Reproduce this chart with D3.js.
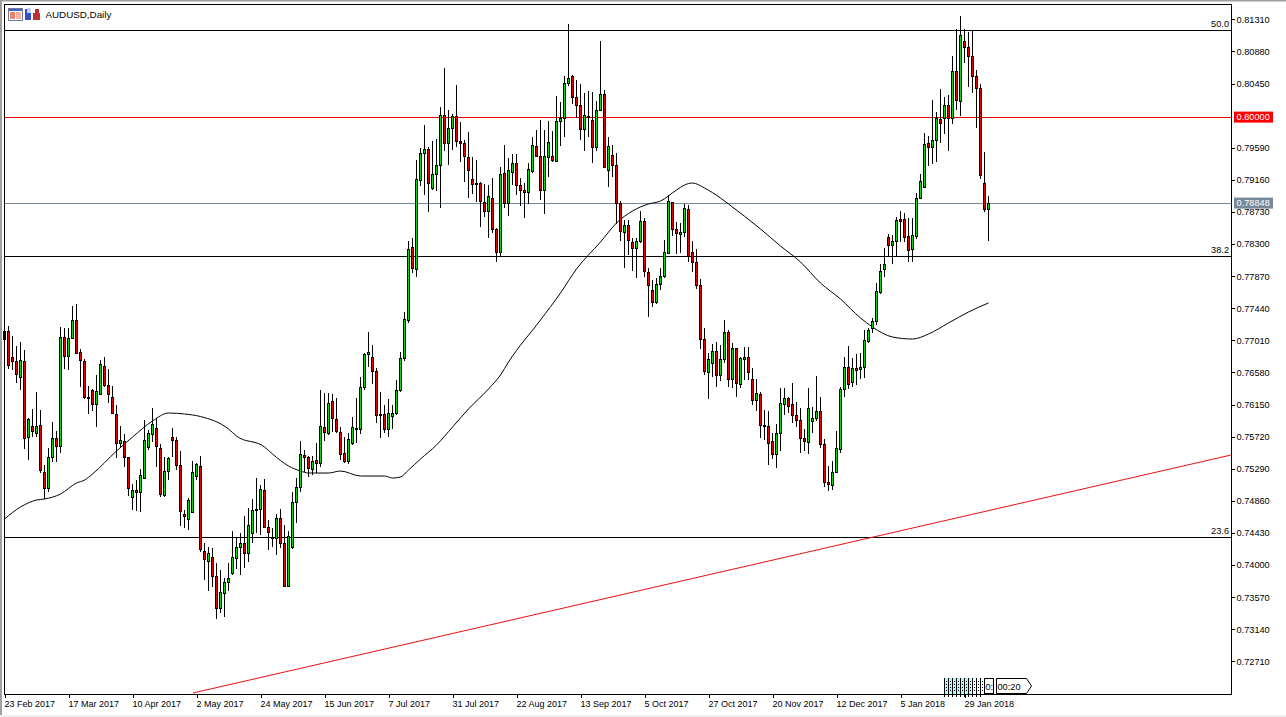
<!DOCTYPE html>
<html>
<head>
<meta charset="utf-8">
<title>AUDUSD,Daily</title>
<script src="https://cdn.jsdelivr.net/npm/d3@7"></script>
<style>
  html, body { margin: 0; padding: 0; background: #fff; }
  svg { display: block; }
  text { font-family: "Liberation Sans", Arial, sans-serif; fill: #000; }
</style>
</head>
<body>
<div id="chart"></div>
<script>
// prices are in points (0.78848 -> 78848), one value per daily bar
const opens = [
77126,77130,76782,76728,76514,76728,75710,75858,75764,75871,
75242,75023,75443,75697,75590,77050,76795,77037,77278,76849,
76728,76246,76340,76148,76286,76662,76407,76246,76019,75630,
75657,75443,74902,75001,74974,75161,75577,75751,75831,75563,
74934,75255,75710,75670,75335,74679,74612,74706,75188,75322,
74183,74049,74103,73848,73420,73621,73768,73889,74089,74237,
74290,74156,74424,74746,74746,75000,74505,74366,74357,74625,
74290,73714,74237,74840,75041,75469,75442,75282,75402,75362,
75844,75764,76192,75951,75777,75496,75389,75625,75831,75817,
76380,76822,76782,76594,76018,76018,75817,75992,76032,76336,
76769,77273,78256,77961,79149,79515,79568,79042,79233,79354,
80024,79649,79850,80010,79676,79649,79461,79167,79113,79113,
78858,78738,78912,78497,78184,79238,78845,79256,79381,79086,
79019,78993,79269,79609,79475,79019,79461,79475,79408,79944,
79984,80453,80546,80265,80158,79836,80011,79957,79595,80091,
80305,79287,79488,79354,78836,78457,78551,78323,78242,78336,
78604,77920,77679,77518,77759,77867,78175,78858,78496,78429,
78456,78764,78188,78054,77746,77023,76581,76701,76862,76540,
76755,77116,76487,76902,76420,76755,76782,76487,76206,76286,
75871,75858,75657,75483,75764,76152,76233,76152,76005,75938,
75697,75643,75925,75965,76059,75617,75108,75067,75242,75550,
76353,76648,76447,76635,76621,76648,76996,77171,77260,77653,
77952,78390,78274,78336,78622,78631,78403,78229,78403,78912,
79060,79649,79591,79689,79970,79984,80158,79984,80613,80212,
81015,80935,80814,80546,80386,79113,78765];
const highs = [
77148,77202,77068,76934,76987,76880,75965,76090,76318,76077,
75340,75563,75916,75800,77188,77171,77179,77474,77496,76889,
76755,76398,76353,76545,76742,76787,76621,76394,76144,75862,
75751,75451,75081,75139,75282,75943,75809,76103,75965,75621,
75451,75451,75831,75719,75523,74737,74893,75389,75371,75460,
74290,74246,74223,74022,73933,73822,74022,74456,74357,74424,
74657,74759,74884,75161,75072,75148,74603,74491,74683,74746,
74536,74456,74974,75161,75657,75541,75460,75460,75630,76344,
76300,76300,76286,76233,75844,75719,75764,75978,76233,76514,
76844,77121,76947,76635,76322,76139,76219,76143,76478,76858,
77394,78340,78376,79425,79582,79894,79595,79680,79707,80131,
80658,80095,80042,80430,79930,79693,79801,79470,79425,79135,
79104,79091,79180,78510,79336,79627,79448,79502,79502,79180,
79113,79381,79729,79828,79961,79828,79948,79819,80283,80198,
80551,81247,80564,80497,80444,80319,80345,80341,80216,81020,
80363,79729,79627,79515,78872,78622,78622,78376,78376,78743,
78653,77974,77817,77840,77974,78353,78956,78867,78590,78576,
78835,78822,78344,78228,77826,77170,76835,76960,76982,76947,
77282,77148,76969,76902,76790,76924,76924,76635,76487,76313,
76077,76063,75764,75889,76367,76367,76246,76434,76184,76099,
75818,76367,76121,76532,76255,75684,75326,75398,75800,76380,
76791,76934,76769,76827,76836,77148,77170,77305,77774,78033,
78243,78435,78421,78667,78743,78720,78644,78644,78979,79238,
79783,79747,80229,80073,80372,80265,80296,80819,81176,81355,
81176,81145,81158,80631,80439,79528,78944];
const lows = [
77014,76621,76612,76443,76344,75559,75407,75719,75719,75237,
74880,74974,75385,75385,75496,76621,76612,77023,76822,76380,
76219,76023,76068,75853,76273,76380,76166,76023,75438,75563,
75309,74925,74737,74728,74715,75148,75541,75652,75318,74907,
74907,75139,75451,75273,74523,74492,74469,74692,75139,74179,
73799,73656,73710,73272,73362,73308,73656,73866,73942,73866,
73956,74045,74290,74424,74402,74491,74201,74246,74134,74223,
73710,73701,74210,74558,74982,75241,75183,75201,75228,75308,
75661,75737,75777,75764,75407,75362,75353,75608,75630,75755,
76344,76648,76425,75898,75697,75764,75710,75817,76005,76322,
76738,77247,77907,77854,79077,78957,78733,79024,79015,78778,
79551,79359,79559,79595,79403,79135,78912,78966,78867,78532,
78658,78376,78443,78064,78131,78787,78680,79091,78957,78814,
78653,78836,79247,79461,78890,78702,79202,79403,79403,79613,
79729,80421,80176,79984,79694,79546,79738,79390,79551,80082,
79314,79068,79202,78568,78345,77984,78153,77943,77841,78309,
77854,77317,77451,77492,77683,77840,78166,78411,78161,78175,
78398,78063,77929,77701,76889,76540,76228,76523,76380,76469,
76701,76380,76366,76255,76366,76478,76478,76144,76068,75701,
75675,75340,75425,75304,75532,76010,76041,75907,75853,75505,
75532,75487,75773,75934,75563,75041,74996,75005,75237,75505,
76255,76353,76380,76411,76492,76501,76978,77113,77216,77631,
77863,78131,78033,78140,78332,78323,78064,78064,78363,78899,
79055,79350,79372,79394,79649,79778,79551,79908,80095,80015,
80730,80408,80319,79850,79167,78734,78345];
const closes = [
77023,76675,76728,76554,76742,75697,75952,75791,75858,75264,
75023,75443,75697,75590,77050,76795,77037,77278,76836,76742,
76246,76228,76152,76327,76688,76407,76286,76032,75630,75670,
75443,75027,75001,74974,75201,75670,75764,75885,75585,74947,
75255,75429,75670,75335,74719,74652,74867,75242,75349,74210,
74076,74156,73848,73420,73634,73768,73822,74103,74237,74290,
74156,74532,74732,74732,75014,74505,74438,74357,74625,74290,
73714,74384,74840,75041,75483,75442,75295,75389,75362,75858,
75777,76166,75965,75791,75483,75389,75683,75844,75817,76380,
76822,76849,76594,76005,76005,75817,76032,76032,76340,76769,
77282,78229,77970,79158,79515,79568,79113,79233,79354,80024,
79649,79850,80010,79676,79649,79470,79287,79100,79100,78872,
78738,78939,78497,78184,79233,78845,79287,79381,79086,79015,
78993,79301,79622,79475,79019,79466,79662,79421,79944,79984,
80453,80520,80265,80158,79836,80024,79997,79595,80091,80305,
79323,79609,79354,78845,78470,78551,78350,78242,78336,78604,
77934,77746,77518,77759,77867,78188,78871,78496,78443,78456,
78777,78134,78054,77746,77023,76594,76755,76862,76540,76755,
77116,76487,76902,76433,76768,76782,76581,76206,76300,75871,
75858,75630,75483,75764,76166,76233,76126,76005,75938,75697,
75657,76099,75965,76059,75617,75108,75081,75242,75563,76353,
76648,76420,76635,76603,76648,77010,77144,77260,77662,77934,
78028,78283,78336,78618,78604,78390,78216,78417,78912,79140,
79636,79591,79689,79984,79912,80158,79984,80613,80225,81096,
80935,80814,80546,80386,79220,78765,78848];

const maBars = [0,4,8,10,14,18,20,22,28,32,37,41,45,49,56,58,65,67,71,74,76,81,84,89,95,97,99,101,104,108,112,116,121,124,126,134,139,143,149,153,157,161,164,168,170,172,175,179,181,189,194,199,204,209,214,217,222,227,231,236,241,246];
const maValues = [74616,74777,74870,74884,74951,75098,75138,75219,75527,75714,75929,76036,76023,75989,75822,75728,75581,75487,75326,75259,75232,75232,75259,75192,75192,75165,75179,75272,75420,75607,75848,76090,76358,76545,76719,77282,77644,77965,78327,78581,78742,78836,78876,79023,79090,79117,79050,78916,78836,78501,78273,78059,77777,77563,77309,77188,77054,77027,77094,77242,77389,77510];

// trend line, ends at the chart frame
const trendBars = [47.1, 306.6];
const trendValues = [72285, 75473];

const fibLevels = [81163, 78135, 74368];
const fibLabels = ["50.0", "38.2", "23.6"];
const roundLevel = 80000;
const lastPrice = 78848;

const priceTicks = [81310,80880,80450,79590,79160,78730,78300,77870,77440,77010,76580,76150,75720,75290,74860,74430,74000,73570,73140,72710];
const dateTickBars = [0,16,32,48,64,80,96,112,128,144,160,176,192,208,224,240];
const dateTickLabels = ["23 Feb 2017","17 Mar 2017","10 Apr 2017","2 May 2017","24 May 2017","15 Jun 2017","7 Jul 2017","31 Jul 2017","22 Aug 2017","13 Sep 2017","5 Oct 2017","27 Oct 2017","20 Nov 2017","12 Dec 2017","5 Jan 2018","29 Jan 2018"];

const W = 1286, H = 717;
const frame = {left: 4.5, top: 4.5, right: 1231.5, bottom: 694.5};

const svg = d3.select("#chart").append("svg").attr("width", W).attr("height", H);

// 4px per bar, 13.396 points per px
const x = d3.scaleLinear().domain([0, 246]).range([4.5, 988.5]);
const y = d3.scaleLinear().domain([81310, 72710]).range([19.3, 661.3]);
const fmt = v => (v / 100000).toFixed(5);

// window edges
svg.append("rect").attr("width", 2).attr("height", H).attr("fill", "#a0a0a0");
svg.append("rect").attr("width", W).attr("height", 1.5).attr("fill", "#a0a0a0");
svg.append("rect").attr("y", 715).attr("width", W).attr("height", 2).attr("fill", "#f0f0f0");

const plot = svg.append("g");

plot.selectAll("line.fib").data(fibLevels).join("line")
  .attr("class", "fib")
  .attr("x1", frame.left).attr("x2", frame.right)
  .attr("y1", d => y(d)).attr("y2", d => y(d))
  .attr("stroke", "#000").attr("shape-rendering", "crispEdges");

plot.append("line")
  .attr("x1", frame.left).attr("x2", frame.right)
  .attr("y1", y(roundLevel)).attr("y2", y(roundLevel))
  .attr("stroke", "#f00000").attr("shape-rendering", "crispEdges");

plot.append("line")
  .attr("x1", frame.left).attr("x2", frame.right)
  .attr("y1", y(lastPrice)).attr("y2", y(lastPrice))
  .attr("stroke", "#778899").attr("shape-rendering", "crispEdges");

const trendLine = d3.line().x(d => x(d[0])).y(d => y(d[1]));
plot.append("path")
  .attr("d", trendLine(d3.zip(trendBars, trendValues)))
  .attr("fill", "none").attr("stroke", "#e81010").attr("stroke-width", 1);

const maLine = d3.line().x(d => x(d[0])).y(d => y(d[1])).curve(d3.curveMonotoneX);
plot.append("path")
  .attr("d", maLine(d3.zip(maBars, maValues)))
  .attr("fill", "none").attr("stroke", "#000").attr("stroke-width", 1);

// candles
const bars = plot.selectAll("g.bar").data(d3.range(opens.length)).join("g").attr("class", "bar");
bars.append("line")
  .attr("x1", i => x(i)).attr("x2", i => x(i))
  .attr("y1", i => y(highs[i])).attr("y2", i => y(lows[i]))
  .attr("stroke", "#000").attr("shape-rendering", "crispEdges");
bars.append("rect")
  .attr("x", i => x(i) - 1)
  .attr("width", 2)
  .attr("y", i => y(Math.max(opens[i], closes[i])))
  .attr("height", i => Math.max(1, Math.abs(y(opens[i]) - y(closes[i]))))
  .attr("fill", i => closes[i] >= opens[i] ? "#00e000" : "#e60000")
  .attr("stroke", "#000").attr("shape-rendering", "crispEdges");

plot.selectAll("text.fib").data(fibLevels).join("text")
  .attr("class", "fib")
  .attr("x", 1229).attr("y", d => y(d) - 3.5)
  .attr("text-anchor", "end").attr("font-size", 9.2)
  .text((d, i) => fibLabels[i]);

// frame
svg.append("rect")
  .attr("x", frame.left).attr("y", frame.top)
  .attr("width", frame.right - frame.left).attr("height", frame.bottom - frame.top)
  .attr("fill", "none").attr("stroke", "#000").attr("shape-rendering", "crispEdges");

// price axis
const yAxis = d3.axisRight(y).tickValues(priceTicks).tickSize(3).tickPadding(2).tickFormat(fmt);
const yG = svg.append("g").attr("transform", `translate(${frame.right},0)`).call(yAxis);
yG.select(".domain").remove();
yG.selectAll("text").attr("font-size", 9.2).attr("font-family", '"Liberation Sans", Arial, sans-serif');
yG.selectAll("line").attr("shape-rendering", "crispEdges");

// round number and last price tags
[[roundLevel, "#ff0000"], [lastPrice, "#778899"]].forEach(function(tag) {
  const g = svg.append("g").attr("transform", `translate(1234,${y(tag[0])})`);
  g.append("rect").attr("y", -5.5).attr("width", 39).attr("height", 11).attr("fill", tag[1]);
  g.append("text").attr("x", 2.6).attr("y", 3.4).attr("font-size", 9.2).style("fill", "#fff").text(fmt(tag[0]));
});

// date axis
const xAxis = d3.axisBottom(x).tickValues(dateTickBars).tickSize(3).tickPadding(3)
  .tickFormat((d, i) => dateTickLabels[i]);
const xG = svg.append("g").attr("transform", `translate(0,${frame.bottom})`).call(xAxis);
xG.select(".domain").remove();
xG.selectAll("text").attr("text-anchor", "start").attr("dx", -0.5).attr("font-size", 9)
  .attr("font-family", '"Liberation Sans", Arial, sans-serif');
xG.selectAll("line").attr("shape-rendering", "crispEdges");

// title
svg.append("text").attr("x", 45.5).attr("y", 18).attr("font-size", 9.8).text("AUDUSD,Daily");

// title icons
const icon = svg.append("g");
icon.append("rect").attr("x", 8.5).attr("y", 8.5).attr("width", 14).attr("height", 12).attr("fill", "#fff").attr("stroke", "#70789a");
icon.append("rect").attr("x", 9).attr("y", 9).attr("width", 13).attr("height", 2).attr("fill", "#4060d0");
icon.append("rect").attr("x", 10).attr("y", 12).attr("width", 5).attr("height", 7).attr("fill", "#f08070");
icon.append("rect").attr("x", 16).attr("y", 12).attr("width", 5).attr("height", 7).attr("fill", "#f8b0a0");
icon.append("rect").attr("x", 25).attr("y", 9).attr("width", 6).attr("height", 11).attr("fill", "#3050c8");
icon.append("rect").attr("x", 27).attr("y", 8).attr("width", 4).attr("height", 5).attr("fill", "#c8d0f0");
icon.append("rect").attr("x", 33).attr("y", 13).attr("width", 7).attr("height", 7).attr("fill", "#c03030");
icon.append("rect").attr("x", 35).attr("y", 9).attr("width", 4).attr("height", 5).attr("fill", "#c03030");

// stacked period labels and timer at the foot of the chart
const stack = svg.append("g");
stack.append("rect").attr("x", 944).attr("y", 678).attr("width", 27).attr("height", 16).attr("fill", "#bff0f4");
d3.range(944, 982, 4).forEach(function(px) {
  stack.append("line").attr("x1", px + 0.5).attr("x2", px + 0.5).attr("y1", 678).attr("y2", 697)
    .attr("stroke", "#000").attr("shape-rendering", "crispEdges");
  stack.append("line").attr("x1", px + 2.5).attr("x2", px + 2.5).attr("y1", 681).attr("y2", 691)
    .attr("stroke", "#000").attr("stroke-dasharray", "1 2").attr("shape-rendering", "crispEdges");
});
stack.append("rect").attr("x", 984.5).attr("y", 678.5).attr("width", 9).attr("height", 15).attr("fill", "#fff").attr("stroke", "#000").attr("shape-rendering", "crispEdges");
stack.append("text").attr("x", 985.5).attr("y", 689.5).attr("font-size", 9.2).text("0:");
stack.append("path").attr("d", "M996.5,678.5H1026.5L1031.5,686L1026.5,693.5H996.5Z").attr("fill", "#fff").attr("stroke", "#000");
stack.append("text").attr("x", 997.5).attr("y", 689.5).attr("font-size", 9.2).text("00:20");
</script>
</body>
</html>
